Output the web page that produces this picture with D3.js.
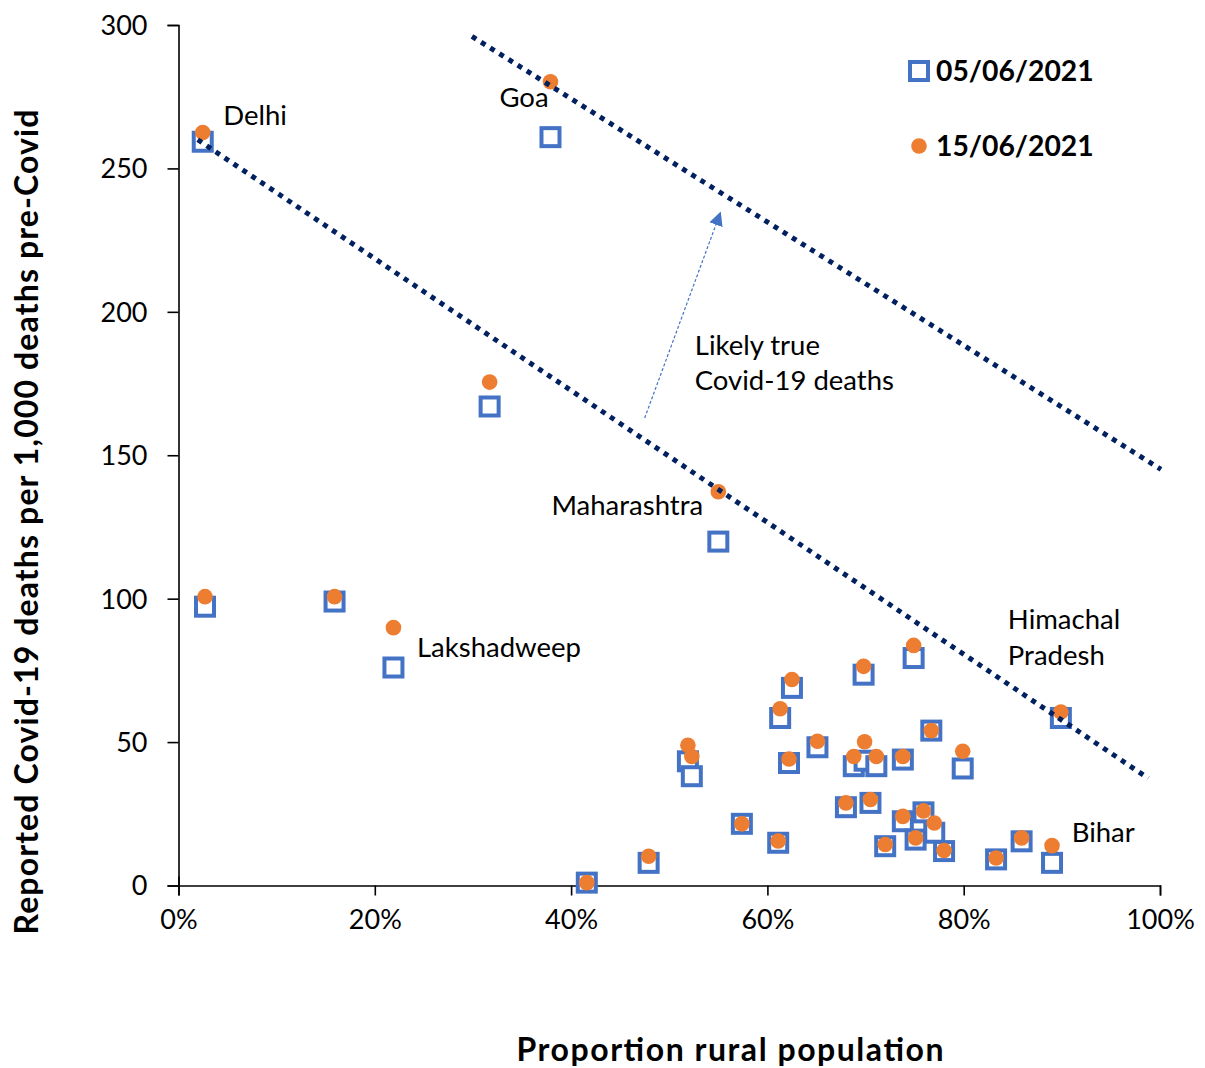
<!DOCTYPE html>
<html><head><meta charset="utf-8">
<script src="https://cdn.jsdelivr.net/npm/d3@7"></script>
<style>
html,body{margin:0;padding:0;background:#fff;}
svg{display:block;font-family:Lato,"Open Sans",sans-serif;}
</style></head>
<body>
<svg id="chart" width="1205" height="1068"></svg>
<script>
// proportion rural population (%)
const rural = [2.47,2.7,15.9,21.9,31.7,37.9,41.6,47.9,51.9,52.3,55.0,57.4,61.1,61.3,62.2,62.5,65.1,68.0,68.8,69.8,69.9,70.5,71.1,72.0,73.8,73.8,74.9,75.1,75.9,76.7,77.0,78.0,79.9,83.3,85.9,89.0,89.9];
// reported deaths per 1,000 pre-Covid deaths, 05/06/2021
const deathsJun05 = [259.3,97.2,99.0,76.0,167.0,260.9,1.0,7.9,43.3,38.1,119.9,21.5,14.9,58.4,42.7,68.9,48.2,27.3,41.6,73.5,43.5,28.8,41.6,13.7,22.4,43.9,79.3,16.0,25.5,54.0,18.4,12.0,40.8,9.1,15.4,7.9,58.4];
// reported deaths per 1,000 pre-Covid deaths, 15/06/2021
const deathsJun15 = [262.5,100.7,100.7,89.9,175.5,280.2,1.0,10.2,48.9,45.0,137.3,21.5,15.5,61.6,44.1,71.8,50.3,28.8,45.0,76.4,50.1,30.0,45.0,14.3,24.1,45.0,83.7,16.6,26.0,54.0,21.8,12.2,46.8,9.6,16.6,13.9,60.5];
const seriesNames = ["05/06/2021","15/06/2021"];
const xTicks = [0,20,40,60,80,100];
const yTicks = [0,50,100,150,200,250,300];
// dotted guide lines [x%, y] endpoints
const lowerLine = [[1.96,260.0],[98.8,37.4]];
const upperLine = [[29.9,296.0],[100.1,145.1]];
const arrowPts = [[47.5,163.0],[55.2,234.5]];
// annotations: text, x%, y
const labelText = ["Delhi","Goa","Maharashtra","Lakshadweep","Himachal","Pradesh","Bihar","Likely true","Covid-19 deaths"];
const labelX = [4.56,32.7,38.0,24.3,84.5,84.5,91.0,52.6,52.6];
const labelY = [265.2,271.5,129.2,79.6,89.4,76.9,15.3,185.0,172.8];

const svg = d3.select("#chart");
const x = d3.scaleLinear().domain([0,100]).range([178.5,1160]);
const y = d3.scaleLinear().domain([0,300]).range([885.5,25]);

const xAxis = svg.append("g").attr("transform",`translate(0,${y(0)})`)
  .call(d3.axisBottom(x).tickValues(xTicks).tickFormat(d=>d+"%").tickSize(10).tickPadding(14));
const yAxis = svg.append("g").attr("transform",`translate(${x(0)},0)`)
  .call(d3.axisLeft(y).tickValues(yTicks).tickSize(11).tickPadding(20));
[xAxis,yAxis].forEach(a=>{
  a.select(".domain").attr("stroke","#000").attr("stroke-width",1.6);
  a.selectAll(".tick line").attr("stroke","#000").attr("stroke-width",1.6);
  a.selectAll(".tick text").attr("font-size",27).attr("fill","#000").attr("font-family","Lato");
});
yAxis.selectAll(".tick text").attr("dy","0.35em");
// 0% tick crosses the axis
xAxis.selectAll(".tick").filter(d=>d===0).select("line").attr("y1",-9);

const idx = d3.range(rural.length);
const sq = 18;
svg.append("g").selectAll("rect").data(idx).join("rect")
  .attr("x",i=>x(rural[i])-sq/2).attr("y",i=>y(deathsJun05[i])-sq/2)
  .attr("width",sq).attr("height",sq)
  .attr("fill","#fff").attr("stroke","#4472C4").attr("stroke-width",4);
svg.append("g").selectAll("circle").data(idx).join("circle")
  .attr("cx",i=>x(rural[i])).attr("cy",i=>y(deathsJun15[i])).attr("r",7.8)
  .attr("fill","#ED7D31");

const line = d3.line().x(d=>x(d[0])).y(d=>y(d[1]));
[lowerLine,upperLine].forEach(l=>{
  svg.append("path").attr("d",line(l)).attr("fill","none")
    .attr("stroke","#002060").attr("stroke-width",5).attr("stroke-dasharray","5,5.8");
});

// arrow
const defs = svg.append("defs");
defs.append("marker").attr("id","ah").attr("viewBox","0 0 10 10").attr("refX",9).attr("refY",5)
  .attr("markerWidth",14).attr("markerHeight",14).attr("markerUnits","userSpaceOnUse").attr("orient","auto")
  .append("path").attr("d","M0,0 L10,5 L0,10 Z").attr("fill","#4472C4");
svg.append("path").attr("d",line(arrowPts)).attr("fill","none")
  .attr("stroke","#4472C4").attr("stroke-width",1.2).attr("stroke-dasharray","3,2")
  .attr("marker-end","url(#ah)");

// labels
svg.append("g").selectAll("text").data(labelText).join("text")
  .attr("x",(d,i)=>x(labelX[i])).attr("y",(d,i)=>y(labelY[i]))
  .attr("font-size",27.5).attr("fill","#000").text(d=>d);

// legend
const lg = svg.append("g");
lg.append("rect").attr("x",919-9).attr("y",71-9).attr("width",18).attr("height",18)
  .attr("fill","#fff").attr("stroke","#4472C4").attr("stroke-width",4);
lg.append("circle").attr("cx",919).attr("cy",146).attr("r",7.8).attr("fill","#ED7D31");
lg.selectAll("text").data(seriesNames).join("text")
  .attr("x",936).attr("y",(d,i)=>i===0?71:146).attr("dy","0.36em")
  .attr("font-size",28.3).attr("font-weight","bold").attr("fill","#000").text(d=>d);

// axis titles
svg.append("text").attr("x",730).attr("y",1061).attr("text-anchor","middle")
  .attr("font-size",32).attr("font-weight","bold").attr("fill","#000")
  .attr("textLength",427).attr("lengthAdjust","spacing").text("Proportion rural population");
svg.append("text").attr("transform","translate(38,522) rotate(-90)").attr("text-anchor","middle")
  .attr("font-size",32).attr("font-weight","bold").attr("fill","#000")
  .attr("textLength",825).attr("lengthAdjust","spacing")
  .text("Reported Covid-19 deaths per 1,000 deaths pre-Covid");
</script>
</body></html>
